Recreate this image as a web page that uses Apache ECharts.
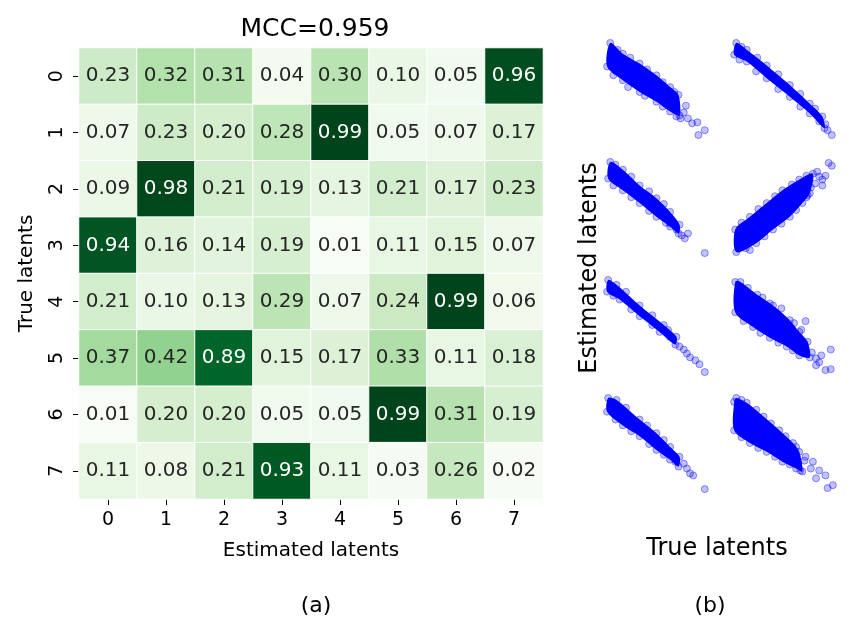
<!DOCTYPE html>
<html>
<head>
<meta charset="utf-8">
<script src="https://cdn.jsdelivr.net/npm/echarts@6/dist/echarts.min.js"></script>
<style>
  html, body { margin: 0; padding: 0; background: #fff; }
  #chart { width: 854px; height: 631px; }
</style>
</head>
<body>
<div id="chart"></div>
<script>
// (a) correlation between true and estimated latents
const latentLabels = ['0', '1', '2', '3', '4', '5', '6', '7'];
const corrRows = [
  [0.23, 0.32, 0.31, 0.04, 0.30, 0.10, 0.05, 0.96],
  [0.07, 0.23, 0.20, 0.28, 0.99, 0.05, 0.07, 0.17],
  [0.09, 0.98, 0.21, 0.19, 0.13, 0.21, 0.17, 0.23],
  [0.94, 0.16, 0.14, 0.19, 0.01, 0.11, 0.15, 0.07],
  [0.21, 0.10, 0.13, 0.29, 0.07, 0.24, 0.99, 0.06],
  [0.37, 0.42, 0.89, 0.15, 0.17, 0.33, 0.11, 0.18],
  [0.01, 0.20, 0.20, 0.05, 0.05, 0.99, 0.31, 0.19],
  [0.11, 0.08, 0.21, 0.93, 0.11, 0.03, 0.26, 0.02],
];
const mccText = 'MCC=0.959';

// (b) true vs estimated latents, 0-100 scale per panel.
// band*Upper / band*Lower: outline of the dense cloud, spread*: loose points
const band1Upper = [[5, 97], [17, 86], [33, 76], [49, 64], [62, 52], [70, 44]];
const band1Lower = [[2, 73], [17, 59], [33, 47], [49, 37], [62, 27], [71, 23]];
const spread1 = [[75, 26], [79, 20], [83, 15], [88, 16], [95, 8], [89, 3], [77, 33], [72, 20], [66, 30],
  [12, 90], [24, 82], [40, 70], [55, 57], [66, 47], [8, 64], [22, 52], [38, 43], [55, 32], [68, 22]];

const band2Upper = [[5, 97], [15, 90], [34, 74], [56, 54], [75, 35], [87, 22]];
const band2Lower = [[3, 85], [15, 78], [34, 61], [56, 42], [75, 25], [89, 10]];
const spread2 = [[96, 3], [92, 8], [90, 14], [10, 93], [25, 82], [45, 65], [66, 45], [80, 30],
  [8, 80], [24, 68], [45, 50], [66, 32], [84, 17]];

const band3Upper = [[5, 96], [17, 88], [33, 72], [49, 59], [62, 45], [71, 32]];
const band3Lower = [[3, 79], [17, 67], [33, 54], [49, 40], [62, 30], [70, 23]];
const spread3 = [[76, 18], [73, 21], [79, 23], [95, 3], [68, 27], [62, 33],
  [10, 93], [25, 81], [42, 66], [56, 53], [8, 72], [25, 60], [42, 46], [58, 34]];

const band4Upper = [[4, 27], [18, 40], [34, 54], [49, 67], [65, 78], [78, 84]];
const band4Lower = [[5, 4], [24, 13], [40, 27], [56, 40], [68, 54], [75, 64]];
const spread4 = [[93, 95], [96, 92], [87, 78], [87, 72], [18, 6], [84, 81], [73, 62], [65, 71], [56, 54], [80, 74],
  [10, 34], [26, 48], [42, 61], [58, 73], [72, 82], [14, 8], [32, 20], [48, 33], [62, 47], [72, 60], [82, 86], [90, 82], [76, 70]];

const band5Upper = [[3, 98], [11, 93], [33, 72], [56, 52], [68, 40]];
const band5Lower = [[2, 86], [14, 78], [33, 61], [52, 45], [67, 32]];
const spread5 = [[71, 30], [78, 23], [81, 19], [86, 16], [90, 12], [95, 4], [75, 27],
  [20, 86], [45, 62], [60, 47], [8, 82], [25, 68], [45, 52], [62, 40]];

const band6Upper = [[4, 96], [9, 96], [25, 83], [40, 72], [56, 57], [65, 45], [73, 35]];
const band6Lower = [[4, 65], [21, 50], [37, 39], [53, 30], [65, 21], [75, 19]];
const spread6 = [[71, 56], [95, 27], [90, 6], [95, 7], [81, 11], [81, 18], [77, 24], [37, 74], [48, 69],
  [60, 54], [67, 47], [86, 21], [84, 14], [65, 39], [16, 90], [30, 80], [12, 56], [28, 44], [45, 34], [59, 26]];

const band7Upper = [[3, 98], [11, 96], [33, 76], [49, 62], [62, 48], [71, 38]];
const band7Lower = [[2, 84], [17, 70], [33, 59], [49, 45], [62, 35], [70, 28]];
const spread7 = [[75, 31], [81, 21], [84, 19], [78, 26], [95, 5],
  [20, 88], [40, 70], [56, 55], [10, 76], [25, 64], [42, 51], [56, 40], [67, 33]];

const band8Upper = [[3, 94], [5, 98], [15, 93], [31, 79], [46, 65], [59, 52], [65, 43]];
const band8Lower = [[3, 65], [18, 52], [34, 43], [49, 33], [62, 26], [68, 23]];
const spread8 = [[78, 33], [84, 24], [90, 19], [92, 6], [97, 9], [81, 16], [71, 38], [76, 26],
  [10, 96], [24, 86], [38, 72], [52, 59], [62, 48], [10, 58], [26, 47], [42, 38], [56, 30], [66, 24], [70, 34]];

const panels = [
  [band1Upper, band1Lower, spread1], [band2Upper, band2Lower, spread2],
  [band3Upper, band3Lower, spread3], [band4Upper, band4Lower, spread4],
  [band5Upper, band5Lower, spread5], [band6Upper, band6Lower, spread6],
  [band7Upper, band7Lower, spread7], [band8Upper, band8Lower, spread8],
];

// matplotlib "Greens"
const greens = ['#f7fcf5', '#e5f5e0', '#c7e9c0', '#a1d99b', '#74c476', '#41ab5d', '#238b45', '#006d2c', '#00441b'];
const FONT = 'DejaVu Sans';

const heatData = [];
corrRows.forEach((row, r) => row.forEach((v, c) => {
  heatData.push({ value: [c, r, v], label: { color: v > 0.6 ? '#ffffff' : '#262626' } });
}));

const grids = [{ left: 79, top: 48, width: 464, height: 451 }];
const xAxes = [{
  type: 'category', gridIndex: 0, data: latentLabels,
  axisLine: { show: false }, splitLine: { show: false },
  axisTick: { show: true, alignWithLabel: true, length: 6, lineStyle: { color: '#000' } },
  axisLabel: { color: '#000', fontSize: 19, fontFamily: FONT, margin: 12 },
  name: 'Estimated latents', nameLocation: 'middle', nameGap: 42,
  nameTextStyle: { color: '#000', fontSize: 20, fontFamily: FONT },
}];
const yAxes = [{
  type: 'category', gridIndex: 0, data: latentLabels, inverse: true,
  axisLine: { show: false }, splitLine: { show: false },
  axisTick: { show: true, alignWithLabel: true, length: 6, lineStyle: { color: '#000' } },
  axisLabel: { color: '#000', fontSize: 19, fontFamily: FONT, rotate: 90, margin: 12 },
  name: 'True latents', nameLocation: 'middle', nameGap: 42,
  nameTextStyle: { color: '#000', fontSize: 20, fontFamily: FONT },
}];

const series = [{
  type: 'heatmap', xAxisIndex: 0, yAxisIndex: 0, data: heatData,
  itemStyle: { borderColor: '#ffffff', borderWidth: 1 },
  label: { show: true, fontSize: 20, fontFamily: FONT, formatter: p => p.value[2].toFixed(2) },
  emphasis: { disabled: true },
}];

// scatter panels: 4 rows x 2 columns
const colLeft = [605, 731], rowTop = [40, 158, 278, 396];
panels.forEach((p, i) => {
  const idx = i + 1;
  const [upper, lower, spread] = p;
  grids.push({ left: colLeft[i % 2], top: rowTop[Math.floor(i / 2)], width: 105, height: 98 });
  xAxes.push({ type: 'value', gridIndex: idx, min: 0, max: 100, show: false });
  yAxes.push({ type: 'value', gridIndex: idx, min: 0, max: 100, show: false });
  const outline = upper.concat(lower.slice().reverse());
  series.push({
    type: 'custom', xAxisIndex: idx, yAxisIndex: idx, data: outline, silent: true,
    renderItem: (params, api) => {
      if (params.dataIndex !== 0) return null;
      return {
        type: 'polygon',
        shape: { points: outline.map(pt => api.coord(pt)), smooth: 0.3 },
        style: { fill: '#0000ff' },
      };
    },
  });
  series.push({
    type: 'scatter', xAxisIndex: idx, yAxisIndex: idx, silent: true,
    data: upper.concat(lower, spread), symbolSize: 7,
    itemStyle: { color: 'rgba(0,0,255,0.3)', borderColor: 'rgba(0,0,255,0.5)', borderWidth: 1 },
  });
});

const chart = echarts.init(document.getElementById('chart'), null, { renderer: 'canvas' });
chart.setOption({
  animation: false,
  backgroundColor: '#ffffff',
  textStyle: { fontFamily: FONT },
  title: [
    { text: mccText, left: 310, top: 12, textAlign: 'center', textStyle: { fontSize: 25, fontWeight: 'normal', color: '#000', fontFamily: FONT } },
    { text: '(a)', left: 311, top: 590, textAlign: 'center', textStyle: { fontSize: 22, fontWeight: 'normal', color: '#000', fontFamily: FONT } },
    { text: '(b)', left: 705, top: 590, textAlign: 'center', textStyle: { fontSize: 22, fontWeight: 'normal', color: '#000', fontFamily: FONT } },
  ],
  graphic: [
    { type: 'text', x: 717, y: 549, style: { text: 'True latents', fontSize: 24, fontFamily: FONT, fill: '#000', align: 'center', verticalAlign: 'middle' } },
    { type: 'text', x: 590, y: 268, rotation: Math.PI / 2, style: { text: 'Estimated latents', fontSize: 24, fontFamily: FONT, fill: '#000', align: 'center', verticalAlign: 'middle' } },
  ],
  visualMap: { type: 'continuous', show: false, seriesIndex: 0, dimension: 2, min: 0.01, max: 0.99, inRange: { color: greens } },
  grid: grids,
  xAxis: xAxes,
  yAxis: yAxes,
  series: series,
});
</script>
</body>
</html>
